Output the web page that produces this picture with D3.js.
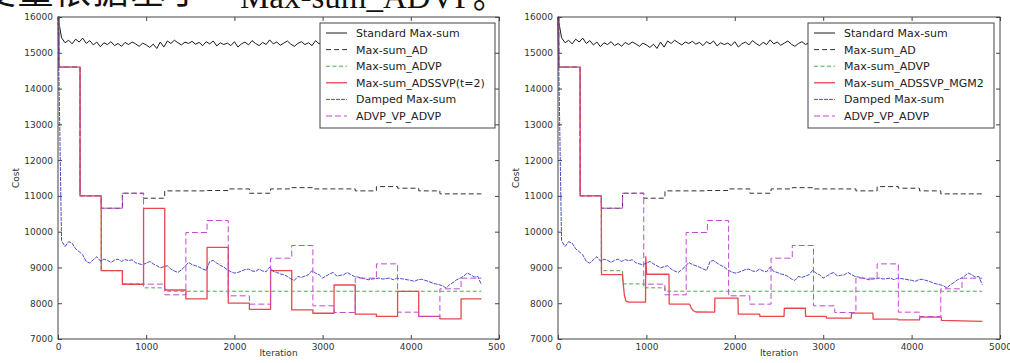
<!DOCTYPE html>
<html>
<head>
<meta charset="utf-8">
<script src="https://cdn.jsdelivr.net/npm/d3@7"></script>
<style>
body { margin: 0; background: #fff; }
svg { display: block; }
</style>
</head>
<body>
<svg id="chart" width="1010" height="363"></svg>
<script>
// iterations where the step series change value (last one runs to endIter)
const stepEdges = [0, 10, 250, 490, 730, 970, 1210, 1450, 1690, 1930, 2170, 2410, 2650, 2890, 3130, 3370, 3610, 3850, 4090, 4330, 4570];
const endIter = 4800;

const adCost = [16000, 14600, 11010, 10655, 11074, 10935, 11140, 11140, 11150, 11195, 11074, 11195, 11230, 11195, 11195, 11140, 11260, 11214, 11140, 11056, 11056];
const advpCost = [16000, 14600, 11000, 8910, 8540, 8430, 8335, 8335, 8335, 8335, 8335, 8335, 8335, 8335, 8335, 8335, 8335, 8335, 8335, 8335, 8335];
const adssvpCost = [16000, 14600, 11000, 8910, 8530, 10650, 8370, 8120, 9560, 8000, 7830, 8910, 7815, 7720, 8510, 7695, 7630, 8330, 7630, 7565, 8120];
const vpCost = [16000, 14600, 11000, 10655, 11074, 8533, 8235, 9976, 10311, 8207, 7974, 9259, 9613, 7927, 7741, 8700, 9100, 7750, 7630, 8402, 8700];

// Max-sum_ADSSVP_MGM2 (right chart), read point by point
const mgmIter = [0, 8, 250, 252, 490, 492, 730, 740, 752, 770, 800, 990, 993, 1003, 1255, 1258, 1490, 1505, 1530, 1560,
  1772, 1775, 2036, 2039, 2281, 2284, 2557, 2560, 2798, 2801, 3035, 3038, 3317, 3320, 3562, 3565, 3845, 3848, 4090, 4093,
  4335, 4338, 4800];
const mgmCost = [16000, 14600, 14600, 11000, 11000, 8800, 8800, 8500, 8200, 8060, 8030, 8030, 9300, 8810, 8810, 7975, 7975, 7880, 7790, 7755,
  7750, 8140, 8140, 7695, 7695, 7630, 7630, 7860, 7860, 7630, 7630, 7585, 7585, 7725, 7725, 7555, 7555, 7535, 7535, 7610,
  7610, 7520, 7490];

// noisy series, one value every sampleStep iterations
const sampleStep = 40;
const stdCost = [
  16000, 15420, 15280, 15350, 15250, 15380, 15300, 15410, 15260, 15340,
  15220, 15300, 15170, 15280, 15230, 15310, 15200, 15260, 15180, 15290,
  15230, 15300, 15250, 15180, 15270, 15220, 15150, 15240, 15120, 15300,
  15160, 15330, 15260, 15350, 15280, 15220, 15300, 15260, 15320, 15240,
  15290, 15200, 15310, 15250, 15330, 15190, 15280, 15230, 15270, 15200,
  15310, 15160, 15250, 15300, 15220, 15340, 15260, 15200, 15290, 15230,
  15360, 15250, 15300, 15210, 15270, 15330, 15240, 15180, 15260, 15310,
  15230, 15280, 15200, 15340, 15250, 15300, 15190, 15270, 15320, 15240,
  15290, 15180, 15260, 15210, 15300, 15250, 15330, 15200, 15280, 15240,
  15310, 15170, 15290, 15230, 15350, 15260, 15310, 15220, 15280, 15240,
  15330, 15270, 15200, 15300, 15250, 15340, 15230, 15290, 15210, 15280,
  15260, 15320, 15240, 15300, 15190, 15280, 15250, 15310, 15230, 15290,
  15260];
const dampedCost = [
  16000, 9750, 9586, 9720, 9679, 9520, 9440, 9354, 9168, 9121,
  9214, 9300, 9180, 9230, 9200, 9140, 9200, 9233, 9168, 9220,
  9190, 9214, 9130, 9100, 9075, 9121, 9168, 9100, 9047, 8990,
  9020, 9047, 8954, 8900, 8861, 8935, 9030, 9140, 9080, 9047,
  9010, 8960, 8917, 9168, 9196, 9120, 9060, 9010, 8935, 8880,
  8842, 8861, 8900, 8940, 8954, 8900, 8889, 8954, 8900, 8880,
  9010, 8889, 8860, 8820, 8796, 8749, 8680, 8638, 8749, 8720,
  8760, 8796, 8917, 8840, 8796, 8703, 8760, 8820, 8861, 8760,
  8780, 8796, 8861, 8800, 8749, 8731, 8710, 8680, 8656, 8675,
  8690, 8703, 8675, 8690, 8703, 8656, 8700, 8690, 8675, 8656,
  8640, 8610, 8656, 8670, 8640, 8610, 8570, 8540, 8517, 8489,
  8424, 8520, 8580, 8656, 8700, 8760, 8842, 8796, 8731, 8749,
  8517];

const xTicks = [0, 1000, 2000, 3000, 4000, 5000];
const yTicks = [7000, 8000, 9000, 10000, 11000, 12000, 13000, 14000, 15000, 16000];

const legendLeft = ["Standard Max-sum", "Max-sum_AD", "Max-sum_ADVP", "Max-sum_ADSSVP(t=2)", "Damped Max-sum", "ADVP_VP_ADVP"];
const legendRight = ["Standard Max-sum", "Max-sum_AD", "Max-sum_ADVP", "Max-sum_ADSSVP_MGM2", "Damped Max-sum", "ADVP_VP_ADVP"];

const styles = [
  {color: "#1a1a1a", width: 1, dash: null},
  {color: "#333", width: 1, dash: "5,3"},
  {color: "#4aaa4a", width: 1, dash: "4,2.5"},
  {color: "#e8474c", width: 1.3, dash: null},
  {color: "#3535c8", width: 0.9, dash: "4,1"},
  {color: "#c04ad0", width: 1, dash: "6,3"}
];

const svg = d3.select("#chart");
const plotTop = 17, plotBottom = 339;

// cropped caption line above the charts
svg.append("text")
  .attr("x", -20).attr("y", 4)
  .attr("font-family", "Noto Sans CJK SC").attr("font-size", 36)
  .attr("letter-spacing", 1.5).attr("fill", "#111")
  .text("变量依据基于");
svg.append("text")
  .attr("x", 240).attr("y", 8)
  .attr("font-family", "Liberation Serif, Noto Sans CJK SC").attr("font-size", 33)
  .attr("fill", "#111")
  .text("Max-sum_ADVP。");

const panels = [
  {id: 0, clip: 0, x0: 58, x1: 499, legend: [320, 495], labels: legendLeft, stepRed: true},
  {id: 1, clip: 505, x0: 558, x1: 1000, legend: [808, 994], labels: legendRight, stepRed: false}
];

function stepData(levels) {
  const pts = stepEdges.map((e, i) => [e, levels[i]]);
  pts.push([endIter, levels[levels.length - 1]]);
  return pts;
}

function drawPanel(p) {
  svg.append("clipPath").attr("id", "clip" + p.id)
    .append("rect").attr("x", p.clip).attr("y", 0).attr("width", 505).attr("height", 363);
  const g = svg.append("g").attr("clip-path", `url(#clip${p.id})`);

  const x = d3.scaleLinear().domain([0, 5000]).range([p.x0, p.x1]);
  const y = d3.scaleLinear().domain([7000, 16000]).range([plotBottom, plotTop]);

  const lineLin = d3.line().x(d => x(d[0])).y(d => y(d[1]));
  const lineStep = d3.line().x(d => x(d[0])).y(d => y(d[1])).curve(d3.curveStepAfter);

  const series = [
    {data: stdCost.map((c, i) => [i * sampleStep, c]), gen: lineLin},
    {data: stepData(adCost), gen: lineStep},
    {data: stepData(advpCost), gen: lineStep},
    p.stepRed ? {data: stepData(adssvpCost), gen: lineStep}
              : {data: mgmIter.map((it, i) => [it, mgmCost[i]]), gen: lineLin},
    {data: dampedCost.map((c, i) => [i * sampleStep, c]), gen: lineLin},
    {data: stepData(vpCost), gen: lineStep}
  ];

  series.forEach((s, i) => {
    g.append("path")
      .attr("d", s.gen(s.data))
      .attr("fill", "none")
      .attr("stroke", styles[i].color)
      .attr("stroke-width", styles[i].width)
      .attr("stroke-dasharray", styles[i].dash)
      .attr("stroke-linejoin", "round");
  });

  // frame
  g.append("rect")
    .attr("x", p.x0).attr("y", plotTop)
    .attr("width", p.x1 - p.x0).attr("height", plotBottom - plotTop)
    .attr("fill", "none").attr("stroke", "#444").attr("stroke-width", 1);

  const axes = [
    g.append("g").attr("transform", `translate(${p.x0},0)`)
      .call(d3.axisLeft(y).tickValues(yTicks).tickSize(-4).tickPadding(5).tickFormat(d3.format("d"))),
    g.append("g").attr("transform", `translate(${p.x1},0)`)
      .call(d3.axisRight(y).tickValues(yTicks).tickSize(-4).tickFormat("")),
    g.append("g").attr("transform", `translate(0,${plotBottom})`)
      .call(d3.axisBottom(x).tickValues(xTicks).tickSize(-4).tickPadding(5).tickFormat(d3.format("d"))),
    g.append("g").attr("transform", `translate(0,${plotTop})`)
      .call(d3.axisTop(x).tickValues(xTicks).tickSize(-4).tickFormat(""))
  ];
  axes.forEach(a => {
    a.select(".domain").remove();
    a.selectAll("line").attr("stroke", "#444");
    a.selectAll("text").attr("font-family", "DejaVu Sans").attr("font-size", 9).attr("fill", "#333");
  });

  g.append("text")
    .attr("transform", `translate(${p.x0 - 39},${(plotTop + plotBottom) / 2}) rotate(-90)`)
    .attr("text-anchor", "middle")
    .attr("font-family", "DejaVu Sans").attr("font-size", 9).attr("fill", "#333")
    .text("Cost");
  g.append("text")
    .attr("x", (p.x0 + p.x1) / 2).attr("y", 356)
    .attr("text-anchor", "middle")
    .attr("font-family", "DejaVu Sans").attr("font-size", 9).attr("fill", "#333")
    .text("Iteration");

  // legend
  const lx0 = p.legend[0], lx1 = p.legend[1];
  g.append("rect")
    .attr("x", lx0).attr("y", 23).attr("width", lx1 - lx0).attr("height", 105)
    .attr("fill", "#fff").attr("stroke", "#444").attr("stroke-width", 1);
  p.labels.forEach((lab, i) => {
    const ry = 33 + i * 16.6;
    g.append("line")
      .attr("x1", lx0 + 6).attr("x2", lx0 + 27).attr("y1", ry).attr("y2", ry)
      .attr("stroke", styles[i].color).attr("stroke-width", styles[i].width)
      .attr("stroke-dasharray", styles[i].dash);
    g.append("text")
      .attr("x", lx0 + 36).attr("y", ry).attr("dy", "0.36em")
      .attr("font-family", "DejaVu Sans").attr("font-size", 11).attr("fill", "#222")
      .text(lab);
  });
}

panels.forEach(drawPanel);
</script>
</body>
</html>
